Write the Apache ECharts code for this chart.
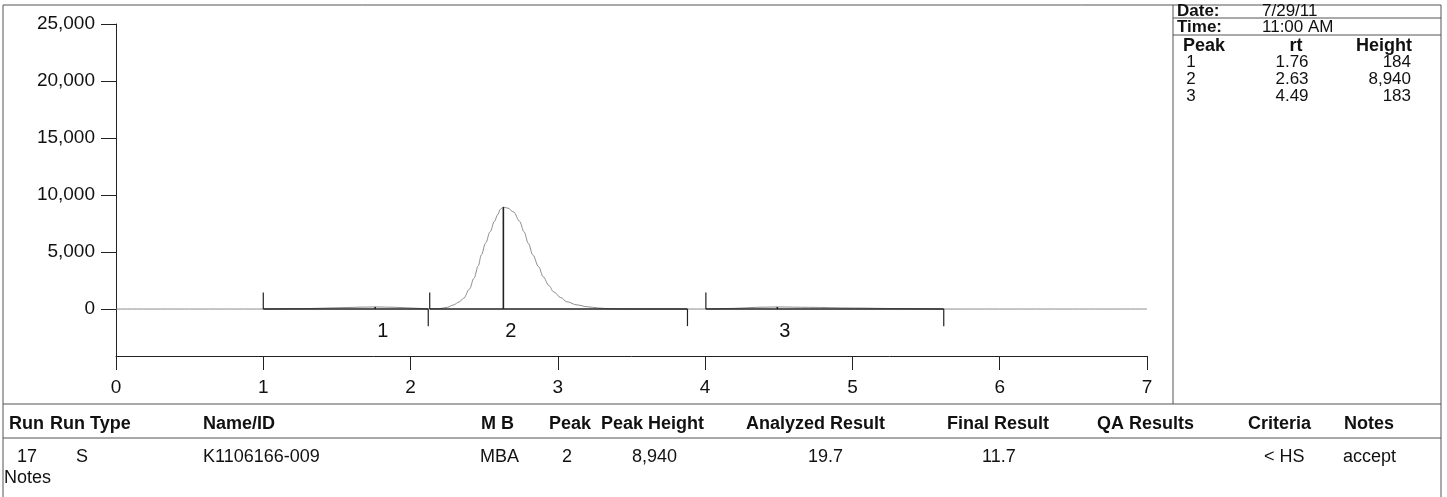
<!DOCTYPE html>
<html>
<head>
<meta charset="utf-8">
<script src="https://cdn.jsdelivr.net/npm/echarts@6/dist/echarts.min.js"></script>
<style>
  html, body { margin: 0; padding: 0; background: #fff; }
  #chart { width: 1447px; height: 497px; }
</style>
</head>
<body>
<div id="chart"></div>
<script>
// Detector trace: retention time (min) and signal
const traceTime = [0, 0.5, 1.0, 1.3, 1.5, 1.65, 1.76, 1.9, 2.05, 2.12, 2.2, 2.25, 2.29, 2.33, 2.36, 2.40, 2.43, 2.46, 2.48, 2.51, 2.54, 2.57, 2.59, 2.61, 2.63, 2.66, 2.70, 2.74, 2.77, 2.80, 2.83, 2.87, 2.90, 2.94, 2.97, 3.02, 3.06, 3.13, 3.20, 3.27, 3.33, 3.42, 3.6, 3.88, 4.0, 4.2, 4.35, 4.49, 4.7, 5.0, 5.3, 5.62, 6.0, 6.5, 7.0];
const traceSignal = [0, 0, 0, 40, 110, 160, 184, 150, 60, 20, 40, 150, 351, 620, 940, 1750, 2690, 3800, 4740, 5800, 6780, 7700, 8250, 8750, 8940, 8850, 8510, 7700, 6780, 5750, 4740, 3700, 2834, 2050, 1520, 1000, 640, 360, 200, 100, 40, 10, 0, 0, 0, 60, 150, 183, 150, 90, 40, 0, 0, 0, 0];

// Integrated peaks
const peakNumber = [1, 2, 3];
const peakRt = [1.76, 2.63, 4.49];
const peakHeight = [184, 8940, 183];
const peakStart = [1.00, 2.13, 4.005];
const peakEnd = [2.12, 3.88, 5.62];

// Axis ticks
const xTicks = [0, 1, 2, 3, 4, 5, 6, 7];
const yTicks = [0, 5000, 10000, 15000, 20000, 25000];

// Run header
const runDate = '7/29/11';
const runTime = '11:00 AM';

// Run summary table
const summaryHeaders = ['Run', 'Run Type', 'Name/ID', 'M B', 'Peak', 'Peak Height', 'Analyzed Result', 'Final Result', 'QA Results', 'Criteria', 'Notes'];
const summaryValues = ['17', 'S', 'K1106166-009', 'MBA', '2', '8,940', '19.7', '11.7', '', '< HS', 'accept'];
const notesLabel = 'Notes';

// ---- layout / style ----
const FONT = '"Liberation Sans", Arial, sans-serif';
const INK = '#111';
const RULE = '#555';
const MARK_UP = 1450;     // height of the peak-start tick (signal units)
const MARK_DOWN = -1500;  // depth of the peak-end tick
const LABEL_Y = -1950;    // signal level of the peak number labels

const headerX = [9, 50, 203, 481, 549, 601, 746, 947, 1097, 1248, 1344];
const valueX = [17, 76, 203, 480, 562, 632, 808, 982, 1097, 1264, 1343];

const chart = echarts.init(document.getElementById('chart'), null, { renderer: 'canvas' });

const traceData = traceTime.map((t, i) => [t, traceSignal[i]]);
const peakData = peakNumber.map((n, i) => [peakStart[i], peakEnd[i], peakRt[i], peakHeight[i], n]);

function hline(x1, x2, y, w) {
  return { type: 'line', shape: { x1, y1: y, x2, y2: y }, style: { stroke: RULE, lineWidth: w || 1 }, silent: true };
}
function vline(x, y1, y2, w) {
  return { type: 'line', shape: { x1: x, y1, x2: x, y2 }, style: { stroke: RULE, lineWidth: w || 1 }, silent: true };
}
function txt(x, y, text, opts) {
  opts = opts || {};
  return {
    type: 'text', x, y, silent: true,
    style: {
      text, fill: INK, font: (opts.bold ? 'bold ' : '') + (opts.size || 17) + 'px ' + FONT,
      textAlign: opts.align || 'left', textVerticalAlign: 'middle'
    }
  };
}

const graphics = [];
// frame
graphics.push(hline(3, 1441, 5));
graphics.push(vline(3, 5, 497));
graphics.push(vline(1441, 5, 497));
graphics.push(vline(1173, 5, 404));
graphics.push(hline(1173, 1441, 18));
graphics.push(hline(1173, 1441, 35));
graphics.push(hline(3, 1441, 404, 1.2));
graphics.push(hline(3, 1441, 438, 1.2));

// run header panel
graphics.push(txt(1177, 11, 'Date:', { bold: true, size: 17 }));
graphics.push(txt(1262, 11, runDate, { size: 17 }));
graphics.push(txt(1177, 27, 'Time:', { bold: true, size: 17 }));
graphics.push(txt(1262, 27, runTime, { size: 17 }));
graphics.push(txt(1204, 46, 'Peak', { bold: true, size: 18, align: 'center' }));
graphics.push(txt(1296, 46, 'rt', { bold: true, size: 18, align: 'center' }));
graphics.push(txt(1412, 46, 'Height', { bold: true, size: 18, align: 'right' }));
peakNumber.forEach((n, i) => {
  const y = 62 + i * 17;
  graphics.push(txt(1191, y, String(n), { size: 17, align: 'center' }));
  graphics.push(txt(1292, y, peakRt[i].toFixed(2), { size: 17, align: 'center' }));
  graphics.push(txt(1411, y, peakHeight[i].toLocaleString('en-US'), { size: 17, align: 'right' }));
});

// summary table
summaryHeaders.forEach((h, i) => graphics.push(txt(headerX[i], 424, h, { bold: true, size: 18 })));
summaryValues.forEach((v, i) => { if (v) graphics.push(txt(valueX[i], 457, v, { size: 18 })); });
graphics.push(txt(4, 478, notesLabel, { size: 18 }));

const option = {
  animation: false,
  backgroundColor: '#fff',
  grid: { left: 116, right: 300, top: 24, bottom: 141, containLabel: false },
  xAxis: {
    type: 'value', min: 0, max: 7, interval: 1,
    axisLine: { show: true, onZero: false, lineStyle: { color: '#222', width: 1 } },
    axisTick: { show: true, length: 14, lineStyle: { color: '#222', width: 1 } },
    axisLabel: { color: INK, fontSize: 19, fontFamily: FONT, margin: 22, formatter: v => String(v) },
    splitLine: { show: false }
  },
  yAxis: {
    type: 'value', min: -4120, max: 25000,
    axisLine: { show: true, onZero: false, lineStyle: { color: '#222', width: 1 } },
    axisTick: { show: true, length: 15, customValues: yTicks, lineStyle: { color: '#222', width: 1 } },
    axisLabel: { customValues: yTicks, color: INK, fontSize: 19, fontFamily: FONT, margin: 21,
                 formatter: v => Number(v).toLocaleString('en-US') },
    splitLine: { show: false }
  },
  series: [
    {
      name: 'Signal', type: 'line', data: traceData, showSymbol: false,
      smooth: 0.35, smoothMonotone: 'x',
      lineStyle: { color: '#8c8c8c', width: 1 }, z: 2, silent: true
    },
    {
      name: 'Peaks', type: 'custom', data: peakData, clip: false, z: 3, silent: true,
      renderItem: (params, api) => {
        const s = api.value(0), e = api.value(1), rt = api.value(2), h = api.value(3), n = api.value(4);
        const b0 = api.coord([s, 0]), b1 = api.coord([e, 0]);
        const up = api.coord([s, MARK_UP]), dn = api.coord([e, MARK_DOWN]);
        const a0 = api.coord([rt, 0]), a1 = api.coord([rt, h]);
        const lab = api.coord([rt, LABEL_Y]);
        const ln = (p, q, w) => ({ type: 'line', shape: { x1: p[0], y1: p[1], x2: q[0], y2: q[1] },
                                   style: { stroke: '#222', lineWidth: w } });
        return {
          type: 'group',
          children: [
            ln(b0, b1, 1.6),
            ln(b0, up, 1.2),
            ln(b1, dn, 1.2),
            ln(a0, a1, 1.6),
            { type: 'text', x: lab[0] + 2, y: lab[1],
              style: { text: String(n), fill: INK, font: '20px ' + FONT, textAlign: 'left', textVerticalAlign: 'middle' } }
          ]
        };
      }
    }
  ],
  graphic: graphics
};

chart.setOption(option);
</script>
</body>
</html>
